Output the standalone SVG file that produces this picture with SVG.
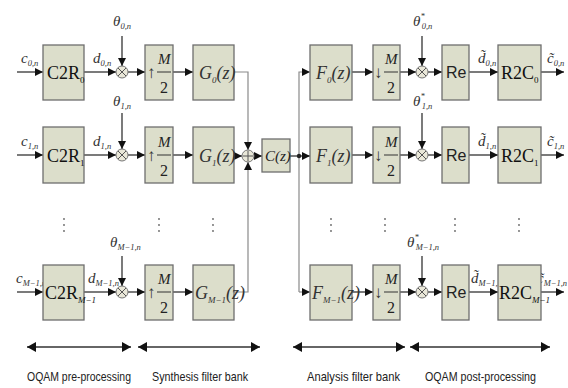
<svg xmlns="http://www.w3.org/2000/svg" width="568" height="388" viewBox="0 0 568 388">
<defs>
<marker id="ah" markerWidth="9" markerHeight="8" refX="8" refY="4" orient="auto" markerUnits="userSpaceOnUse"><path d="M0,0 L8,4 L0,8 Z" fill="#111"/></marker>
<marker id="ahs" markerWidth="9" markerHeight="10" refX="9" refY="5" orient="auto-start-reverse" markerUnits="userSpaceOnUse"><path d="M0,0 L9,5 L0,10 Z" fill="#111"/></marker>
<style>
.box{fill:#dcdecb;stroke:#6e6e6e;stroke-width:1.3}
.ln{fill:none;stroke:#333;stroke-width:1.3}
.lg{fill:none;stroke:#8a8a8a;stroke-width:1.2}
.op{fill:#e9e7d8;stroke:#777;stroke-width:1}
.m{font-family:"Liberation Serif",serif;font-style:italic;fill:#333;font-size:15px}
.s{font-size:8.5px}
.sb{font-size:9px}
.bt{font-family:"Liberation Serif",serif;fill:#111;font-size:18px}
.it{font-family:"Liberation Serif",serif;font-style:italic;fill:#333;font-size:18px}
.fr{font-family:"Liberation Serif",serif;fill:#222;font-size:16px}
.fm{font-family:"Liberation Serif",serif;font-style:italic;fill:#222;font-size:15px}
.arr{font-family:"Liberation Serif",serif;fill:#333;font-size:17px}
.re{font-family:"Liberation Sans",sans-serif;fill:#222;font-size:16px}
.lab{font-family:"Liberation Sans",sans-serif;fill:#222;font-size:13px}
.dot{fill:#666}
</style>
</defs>
<rect width="568" height="388" fill="#fff"/>

<g id="connectors">
<line class="ln" x1="17" y1="72" x2="43" y2="72" marker-end="url(#ah)"/>
<line class="ln" x1="84" y1="72" x2="116" y2="72" marker-end="url(#ah)"/>
<line class="ln" x1="128" y1="72" x2="145" y2="72" marker-end="url(#ah)"/>
<line class="ln" x1="173" y1="72" x2="193" y2="72" marker-end="url(#ah)"/>
<line class="ln" x1="122" y1="36" x2="122" y2="66" marker-end="url(#ah)"/>
<polyline class="lg" points="234,72 248,72 248,150" marker-end="url(#ah)"/>
<polyline class="lg" points="299,292 299,72 310,72" marker-end="url(#ah)"/>
<line class="ln" x1="352" y1="72" x2="373" y2="72" marker-end="url(#ah)"/>
<line class="ln" x1="400" y1="72" x2="416" y2="72" marker-end="url(#ah)"/>
<line class="ln" x1="422" y1="36" x2="422" y2="66" marker-end="url(#ah)"/>
<line class="ln" x1="428" y1="72" x2="442" y2="72" marker-end="url(#ah)"/>
<line class="ln" x1="469" y1="72" x2="498" y2="72" marker-end="url(#ah)"/>
<line class="ln" x1="541" y1="72" x2="564" y2="72" marker-end="url(#ah)"/>
<line class="ln" x1="17" y1="155" x2="43" y2="155" marker-end="url(#ah)"/>
<line class="ln" x1="84" y1="155" x2="116" y2="155" marker-end="url(#ah)"/>
<line class="ln" x1="128" y1="155" x2="145" y2="155" marker-end="url(#ah)"/>
<line class="ln" x1="173" y1="155" x2="193" y2="155" marker-end="url(#ah)"/>
<line class="ln" x1="122" y1="113" x2="122" y2="149" marker-end="url(#ah)"/>
<line class="ln" x1="234" y1="156" x2="242" y2="156" marker-end="url(#ah)"/>
<line class="ln" x1="254" y1="156" x2="262" y2="156" marker-end="url(#ah)"/>
<line class="ln" x1="290" y1="156" x2="310" y2="156" marker-end="url(#ah)"/>
<circle cx="299" cy="156" r="2.2" fill="#222"/>
<line class="ln" x1="352" y1="155" x2="373" y2="155" marker-end="url(#ah)"/>
<line class="ln" x1="400" y1="155" x2="416" y2="155" marker-end="url(#ah)"/>
<line class="ln" x1="422" y1="113" x2="422" y2="149" marker-end="url(#ah)"/>
<line class="ln" x1="428" y1="155" x2="442" y2="155" marker-end="url(#ah)"/>
<line class="ln" x1="469" y1="155" x2="498" y2="155" marker-end="url(#ah)"/>
<line class="ln" x1="541" y1="155" x2="564" y2="155" marker-end="url(#ah)"/>
<line class="ln" x1="17" y1="292" x2="43" y2="292" marker-end="url(#ah)"/>
<line class="ln" x1="84" y1="292" x2="116" y2="292" marker-end="url(#ah)"/>
<line class="ln" x1="128" y1="292" x2="145" y2="292" marker-end="url(#ah)"/>
<line class="ln" x1="173" y1="292" x2="193" y2="292" marker-end="url(#ah)"/>
<line class="ln" x1="122" y1="256" x2="122" y2="286" marker-end="url(#ah)"/>
<polyline class="lg" points="234,292 248,292 248,162" marker-end="url(#ah)"/>
<line class="lg" x1="299" y1="292" x2="310" y2="292" marker-end="url(#ah)"/>
<line class="ln" x1="352" y1="292" x2="373" y2="292" marker-end="url(#ah)"/>
<line class="ln" x1="400" y1="292" x2="416" y2="292" marker-end="url(#ah)"/>
<line class="ln" x1="422" y1="256" x2="422" y2="286" marker-end="url(#ah)"/>
<line class="ln" x1="428" y1="292" x2="442" y2="292" marker-end="url(#ah)"/>
<line class="ln" x1="469" y1="292" x2="498" y2="292" marker-end="url(#ah)"/>
<line class="ln" x1="541" y1="292" x2="564" y2="292" marker-end="url(#ah)"/>
<line class="ln" x1="27" y1="347" x2="131" y2="347" marker-start="url(#ahs)" marker-end="url(#ahs)" style="stroke-width:1.5"/>
<line class="ln" x1="138" y1="347" x2="260" y2="347" marker-start="url(#ahs)" marker-end="url(#ahs)" style="stroke-width:1.5"/>
<line class="ln" x1="293" y1="347" x2="405" y2="347" marker-start="url(#ahs)" marker-end="url(#ahs)" style="stroke-width:1.5"/>
<line class="ln" x1="410" y1="347" x2="550" y2="347" marker-start="url(#ahs)" marker-end="url(#ahs)" style="stroke-width:1.5"/>
</g>

<g id="signal-labels">
<text class="m" x="21" y="63">c<tspan class="s" dy="3">0,n</tspan></text>
<text class="m" x="21" y="146">c<tspan class="s" dy="3">1,n</tspan></text>
<text class="m" x="16" y="283">c<tspan class="s" dy="3">M−1,n</tspan></text>
<text class="m" x="93" y="63">d<tspan class="s" dy="3">0,n</tspan></text>
<text class="m" x="93" y="146">d<tspan class="s" dy="3">1,n</tspan></text>
<text class="m" x="88" y="283">d<tspan class="s" dy="3">M−1,n</tspan></text>
<text class="m" x="113" y="26">θ<tspan class="s" dy="3">0,n</tspan></text>
<text class="m" x="113" y="106">θ<tspan class="s" dy="3">1,n</tspan></text>
<text class="m" x="110" y="247">θ<tspan class="s" dy="3">M−1,n</tspan></text>
<text class="m" x="413" y="26">θ<tspan class="s" dy="-7">*</tspan><tspan class="s" dx="-3" dy="10">0,n</tspan></text>
<text class="m" x="413" y="106">θ<tspan class="s" dy="-7">*</tspan><tspan class="s" dx="-3" dy="10">1,n</tspan></text>
<text class="m" x="407" y="247">θ<tspan class="s" dy="-7">*</tspan><tspan class="s" dx="-3" dy="10">M−1,n</tspan></text>
<text class="m" x="478" y="63">d̃<tspan class="s" dy="3">0,n</tspan></text>
<text class="m" x="478" y="146">d̃<tspan class="s" dy="3">1,n</tspan></text>
<text class="m" x="471" y="283">d̃<tspan class="s" dy="3">M−1,n</tspan></text>
<text class="m" x="547" y="63">c̃<tspan class="s" dy="3">0,n</tspan></text>
<text class="m" x="547" y="146">c̃<tspan class="s" dy="3">1,n</tspan></text>
<text class="m" x="537" y="283">c̃<tspan class="s" dy="3">M−1,n</tspan></text>
</g>

<g id="c2r0"><rect class="box" x="43" y="45" width="41" height="55"/><text class="bt" x="47" y="79">C2R<tspan class="sb" dy="4">0</tspan></text></g>
<g id="mul0"><circle class="op" cx="122" cy="72" r="6"/><path d="M118,68 L126,76 M126,68 L118,76" stroke="#555" stroke-width="1"/></g>
<g id="up0"><rect class="box" x="145" y="45" width="28" height="55"/><text class="arr" x="147" y="78">↑</text><text class="fm" x="158" y="64">M</text><line x1="157" y1="72" x2="171" y2="72" stroke="#333" stroke-width="1"/><text class="fr" x="160" y="93">2</text></g>
<g id="g0"><rect class="box" x="193" y="45" width="41" height="55"/><text class="it" x="199" y="79">G<tspan class="sb" dy="4">0</tspan><tspan dy="-4">(z)</tspan></text></g>
<g id="f0"><rect class="box" x="310" y="45" width="42" height="55"/><text class="it" x="316" y="79">F<tspan class="sb" dy="4">0</tspan><tspan dy="-4">(z)</tspan></text></g>
<g id="down0"><rect class="box" x="373" y="45" width="27" height="55"/><text class="arr" x="374" y="78">↓</text><text class="fm" x="385" y="64">M</text><line x1="384" y1="72" x2="398" y2="72" stroke="#333" stroke-width="1"/><text class="fr" x="387" y="93">2</text></g>
<g id="mulr0"><circle class="op" cx="422" cy="72" r="6"/><path d="M418,68 L426,76 M426,68 L418,76" stroke="#555" stroke-width="1"/></g>
<g id="re0"><rect class="box" x="442" y="45" width="27" height="55"/><text class="re" x="446" y="78">Re</text></g>
<g id="r2c0"><rect class="box" x="498" y="45" width="43" height="55"/><text class="bt" x="501" y="79">R2C<tspan class="sb" dy="4">0</tspan></text></g>

<g id="c2r1"><rect class="box" x="43" y="127" width="41" height="56"/><text class="bt" x="47" y="162">C2R<tspan class="sb" dy="4">1</tspan></text></g>
<g id="mul1"><circle class="op" cx="122" cy="155" r="6"/><path d="M118,151 L126,159 M126,151 L118,159" stroke="#555" stroke-width="1"/></g>
<g id="up1"><rect class="box" x="145" y="127" width="28" height="56"/><text class="arr" x="147" y="161">↑</text><text class="fm" x="158" y="147">M</text><line x1="157" y1="155" x2="171" y2="155" stroke="#333" stroke-width="1"/><text class="fr" x="160" y="176">2</text></g>
<g id="g1"><rect class="box" x="193" y="127" width="41" height="56"/><text class="it" x="199" y="162">G<tspan class="sb" dy="4">1</tspan><tspan dy="-4">(z)</tspan></text></g>
<g id="sum"><circle class="op" cx="248" cy="156" r="6"/><path d="M248,151 L248,161 M243,156 L253,156" stroke="#555" stroke-width="1"/></g>
<g id="channel"><rect class="box" x="262" y="139" width="28" height="33"/><text class="fm" x="265" y="161">C(z)</text></g>
<g id="f1"><rect class="box" x="310" y="127" width="42" height="56"/><text class="it" x="316" y="162">F<tspan class="sb" dy="4">1</tspan><tspan dy="-4">(z)</tspan></text></g>
<g id="down1"><rect class="box" x="373" y="127" width="27" height="56"/><text class="arr" x="374" y="161">↓</text><text class="fm" x="385" y="147">M</text><line x1="384" y1="155" x2="398" y2="155" stroke="#333" stroke-width="1"/><text class="fr" x="387" y="176">2</text></g>
<g id="mulr1"><circle class="op" cx="422" cy="155" r="6"/><path d="M418,151 L426,159 M426,151 L418,159" stroke="#555" stroke-width="1"/></g>
<g id="re1"><rect class="box" x="442" y="127" width="27" height="56"/><text class="re" x="446" y="161">Re</text></g>
<g id="r2c1"><rect class="box" x="498" y="127" width="43" height="56"/><text class="bt" x="501" y="162">R2C<tspan class="sb" dy="4">1</tspan></text></g>

<g id="c2rM"><rect class="box" x="43" y="265" width="41" height="55"/><text class="bt" x="45" y="299">C2R<tspan class="sb" style="font-style:italic" dy="4">M−1</tspan></text></g>
<g id="mulM"><circle class="op" cx="122" cy="292" r="6"/><path d="M118,288 L126,296 M126,288 L118,296" stroke="#555" stroke-width="1"/></g>
<g id="upM"><rect class="box" x="145" y="265" width="28" height="55"/><text class="arr" x="147" y="298">↑</text><text class="fm" x="158" y="284">M</text><line x1="157" y1="292" x2="171" y2="292" stroke="#333" stroke-width="1"/><text class="fr" x="160" y="313">2</text></g>
<g id="gM"><rect class="box" x="193" y="265" width="41" height="55"/><text class="it" x="195" y="299">G<tspan class="sb" dy="4">M−1</tspan><tspan dy="-4">(z)</tspan></text></g>
<g id="fM"><rect class="box" x="310" y="265" width="42" height="55"/><text class="it" x="312" y="299">F<tspan class="sb" dy="4">M−1</tspan><tspan dy="-4">(z)</tspan></text></g>
<g id="downM"><rect class="box" x="373" y="265" width="27" height="55"/><text class="arr" x="374" y="298">↓</text><text class="fm" x="385" y="284">M</text><line x1="384" y1="292" x2="398" y2="292" stroke="#333" stroke-width="1"/><text class="fr" x="387" y="313">2</text></g>
<g id="mulrM"><circle class="op" cx="422" cy="292" r="6"/><path d="M418,288 L426,296 M426,288 L418,296" stroke="#555" stroke-width="1"/></g>
<g id="reM"><rect class="box" x="442" y="265" width="27" height="55"/><text class="re" x="446" y="298">Re</text></g>
<g id="r2cM"><rect class="box" x="498" y="265" width="43" height="55"/><text class="bt" x="499" y="299">R2C<tspan class="sb" style="font-style:italic" dy="4">M−1</tspan></text></g>

<g id="ellipses">
<g class="dot">
<circle cx="64" cy="219" r="0.9"/><circle cx="64" cy="225" r="0.9"/><circle cx="64" cy="231" r="0.9"/>
<circle cx="159" cy="219" r="0.9"/><circle cx="159" cy="225" r="0.9"/><circle cx="159" cy="231" r="0.9"/>
<circle cx="213" cy="219" r="0.9"/><circle cx="213" cy="225" r="0.9"/><circle cx="213" cy="231" r="0.9"/>
<circle cx="331" cy="219" r="0.9"/><circle cx="331" cy="225" r="0.9"/><circle cx="331" cy="231" r="0.9"/>
<circle cx="385" cy="219" r="0.9"/><circle cx="385" cy="225" r="0.9"/><circle cx="385" cy="231" r="0.9"/>
<circle cx="455" cy="219" r="0.9"/><circle cx="455" cy="225" r="0.9"/><circle cx="455" cy="231" r="0.9"/>
<circle cx="519" cy="219" r="0.9"/><circle cx="519" cy="225" r="0.9"/><circle cx="519" cy="231" r="0.9"/>
</g>
</g>

<g id="sections">
<text class="lab" x="27" y="381" textLength="104" lengthAdjust="spacingAndGlyphs">OQAM pre-processing</text>
<text class="lab" x="152" y="381" textLength="96" lengthAdjust="spacingAndGlyphs">Synthesis filter bank</text>
<text class="lab" x="307" y="381" textLength="93" lengthAdjust="spacingAndGlyphs">Analysis filter bank</text>
<text class="lab" x="425" y="381" textLength="111" lengthAdjust="spacingAndGlyphs">OQAM post-processing</text>
</g>
</svg>
